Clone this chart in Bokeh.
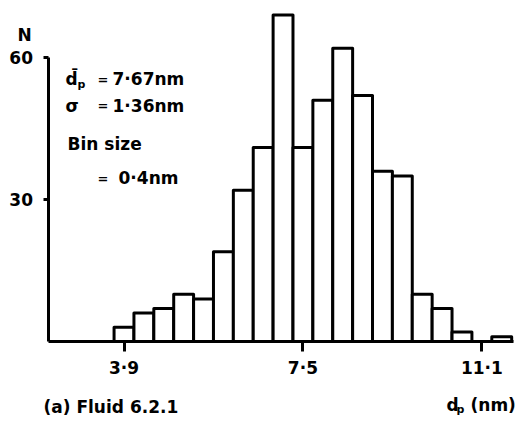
from bokeh.plotting import figure
from bokeh.models import FixedTicker, Label, ColumnDataSource
from bokeh.embed import file_html
from bokeh.resources import INLINE

# ---- data ----
bin_centers = [3.9, 4.3, 4.7, 5.1, 5.5, 5.9, 6.3, 6.7, 7.1, 7.5,
               7.9, 8.3, 8.7, 9.1, 9.5, 9.9, 10.3, 10.7, 11.1, 11.5]
counts = [3, 6, 7, 10, 9, 19, 32, 41, 69, 41,
          51, 62, 52, 36, 35, 10, 7, 2, 0, 1]
bin_size = 0.4
xtick_values = [3.9, 7.5, 11.1]
xtick_labels = ["3·9", "7·5", "11·1"]
ytick_values = [30, 60]
ytick_labels = ["30", "60"]

FONT = "DejaVu Sans"

src = ColumnDataSource(dict(
    left=[c - bin_size / 2 for c in bin_centers],
    right=[c + bin_size / 2 for c in bin_centers],
    top=counts,
    bottom=[0] * len(counts),
))

p = figure(width=515, height=420, output_backend="svg", toolbar_location=None,
           x_range=(1.415, 11.777), y_range=(-16.70, 72.09),
           min_border_left=0, min_border_right=0, min_border_top=0, min_border_bottom=0)
p.background_fill_color = "white"
p.border_fill_color = "white"
p.outline_line_color = None
p.xgrid.grid_line_color = None
p.ygrid.grid_line_color = None

p.quad(left="left", right="right", top="top", bottom="bottom", source=src,
       fill_color="white", line_color="black", line_width=3, line_join="round")

# x axis (pinned at N = 0)
xa = p.xaxis[0]
xa.fixed_location = 0
xa.bounds = (2.371, 11.74)
xa.ticker = FixedTicker(ticks=xtick_values)
xa.major_label_overrides = dict(zip(xtick_values, xtick_labels))
xa.minor_tick_line_color = None
xa.major_tick_out = 10
xa.major_tick_in = 0
xa.major_tick_line_width = 3
xa.axis_line_width = 3
xa.major_label_standoff = 6
xa.major_label_text_font = FONT
xa.major_label_text_font_style = "bold"
xa.major_label_text_font_size = "17px"
xa.major_label_text_color = "black"

# y axis (pinned at the left end of the baseline)
ya = p.yaxis[0]
ya.fixed_location = 2.371
ya.ticker = FixedTicker(ticks=ytick_values)
ya.major_label_overrides = dict(zip(ytick_values, ytick_labels))
ya.bounds = (0, 60)
ya.minor_tick_line_color = None
ya.major_tick_out = 5
ya.major_tick_in = 0
ya.major_tick_line_width = 3
ya.axis_line_width = 3
ya.major_label_standoff = 10
ya.major_label_text_font = FONT
ya.major_label_text_font_style = "bold"
ya.major_label_text_font_size = "17px"
ya.major_label_text_color = "black"

DY = 1.3  # baseline correction


def lab(x, y, text, size="17px", align="left"):
    p.add_layout(Label(x=x, y=y + DY, text=text, text_font=FONT, text_font_style="bold",
                       text_font_size=size, text_color="black", text_align=align,
                       text_baseline="alphabetic"))


lab(1.757, 63.6, "N")
# annotation block
lab(2.723, 54.1, "d\u0304")
lab(2.965, 53.0, "p", size="11px")
lab(3.367, 54.1, "=", size="13px")
lab(3.669, 54.1, "7·67nm")
lab(2.723, 48.5, "σ")
lab(3.367, 48.5, "=", size="13px")
lab(3.669, 48.5, "1·36nm")
lab(2.763, 40.4, "Bin size")
lab(3.367, 33.2, "=", size="13px")
lab(3.79, 33.2, "0·4nm")
# bottom texts
lab(2.28, -15.2, "(a) Fluid 6.2.1")
lab(10.389, -14.8, "d")
lab(10.59, -15.6, "p", size="11px")
lab(10.872, -14.8, "(nm)")

open("out.html", "w").write(file_html(p, INLINE))
